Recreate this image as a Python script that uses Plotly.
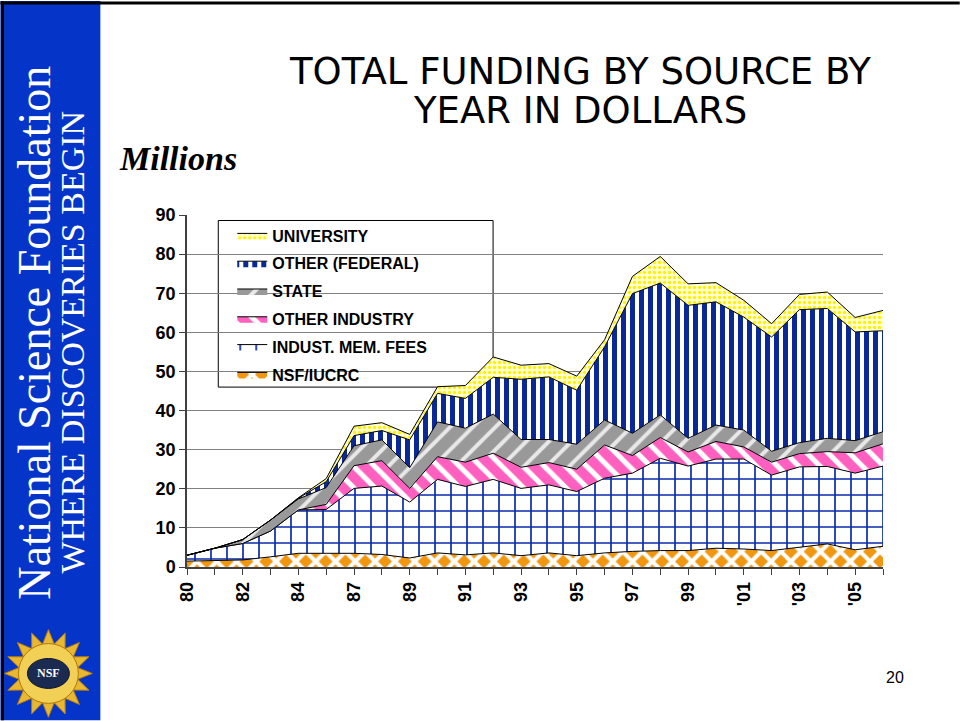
import math
import plotly.graph_objects as go

# ---------------- data (millions of dollars) ----------------
years = ["80", "81", "82", "83", "84", "85", "87", "88", "89", "90", "91", "92", "93",
         "94", "95", "96", "97", "98", "99", "'00", "'01", "'02", "'03", "'04", "'05", "'06"]
tick_labels = ["80", "", "82", "", "84", "", "87", "", "89", "", "91", "", "93",
               "", "95", "", "97", "", "99", "", "'01", "", "'03", "", "'05", ""]

nsf_iucrc = [1.5, 1.6, 1.8, 2.6, 3.5, 3.5, 3.5, 3.2, 2.3, 3.6, 3.1, 3.6, 2.9,
             3.6, 2.9, 3.6, 4.0, 4.2, 4.2, 4.8, 4.6, 4.2, 5.0, 5.9, 4.4, 5.3]
indust_mem_fees = [1.5, 3.2, 4.2, 6.6, 11.1, 11.2, 16.6, 17.5, 14.3, 18.8, 17.5, 18.8, 17.2,
                   17.4, 16.4, 19.1, 20.0, 23.6, 21.6, 22.8, 23.0, 19.3, 20.6, 19.8, 19.6, 20.5]
other_industry = [0, 0, 0, 0, 0, 1.3, 5.8, 6.5, 3.5, 5.8, 6.2, 6.7, 5.4,
                  5.7, 5.7, 8.5, 4.5, 5.3, 3.6, 4.5, 3.1, 3.3, 3.4, 3.8, 5.2, 5.7]
state = [0, 0, 1.0, 2.8, 2.8, 4.3, 5.1, 5.3, 5.3, 8.9, 8.7, 10.0, 7.1,
         5.9, 6.4, 6.4, 5.7, 5.8, 3.5, 4.2, 4.3, 2.8, 2.8, 3.4, 3.1, 3.1]
other_federal = [0, 0, 0, 0, 0.2, 1.5, 2.6, 2.4, 7.1, 7.3, 7.6, 9.4, 15.4,
                 16.0, 13.8, 18.7, 35.7, 33.7, 34.0, 31.5, 28.9, 29.2, 34.0, 33.2, 27.8, 25.8]
university = [0, 0, 0, 0, 0.1, 0.8, 2.4, 2.0, 1.4, 1.7, 3.3, 5.2, 3.6,
              3.4, 3.6, 1.8, 4.4, 6.8, 5.5, 4.9, 4.3, 3.4, 3.9, 4.2, 3.7, 5.2]

y_ticks = [0, 10, 20, 30, 40, 50, 60, 70, 80, 90]

# ---------------- layout geometry (pixels) ----------------
W, H = 960, 721
L, R, T, B = 186.7, 883.2, 214.5, 567.3


def px(x):
    return (x - L) / (R - L)


def py(y):
    return (B - y) / (B - T)


series = [
    ("NSF/IUCRC", nsf_iucrc, dict(shape="x", fgcolor="white", bgcolor="#F0960F", size=14, solidity=0.5)),
    ("INDUST. MEM. FEES", indust_mem_fees, dict(shape="+", fgcolor="#0A2AA8", bgcolor="white", size=16, solidity=0.2)),
    ("OTHER INDUSTRY", other_industry, dict(shape="\\", fgcolor="white", bgcolor="#FF5FBF", size=15, solidity=0.35)),
    ("STATE", state, dict(shape="/", fgcolor="#E8E8E8", bgcolor="#999999", size=16, solidity=0.25)),
    ("OTHER (FEDERAL)", other_federal, dict(shape="|", fgcolor="#0A2896", bgcolor="white", size=9, solidity=0.55)),
    ("UNIVERSITY", university, dict(shape=".", fgcolor="#FFF200", bgcolor="#FFFFD6", size=5, solidity=0.35)),
]

fig = go.Figure()
n_series = len(series)
for i, (name, vals, pat) in enumerate(series):
    pat = dict(pat, fgopacity=1, fillmode="replace")
    fig.add_trace(go.Scatter(
        x=years, y=vals, name=name, mode="lines", stackgroup="one",
        legendgroup=name, legendrank=100 * (n_series - i),
        line=dict(color="black", width=1),
        fillcolor=pat["bgcolor"],
        fillpattern=pat,
        hoverinfo="x+y+name",
    ))

shapes = []
# left blue band
shapes.append(dict(type="rect", xref="paper", yref="paper", x0=px(0), x1=px(100), y0=py(721), y1=py(0),
                   fillcolor="#0535C8", line=dict(width=0), layer="above"))
# black frame lines (top and left)
shapes.append(dict(type="line", xref="paper", yref="paper", x0=px(0), x1=px(960), y0=py(2), y1=py(2),
                   line=dict(color="black", width=3), layer="above"))
shapes.append(dict(type="line", xref="paper", yref="paper", x0=px(2), x1=px(2), y0=py(0), y1=py(721),
                   line=dict(color="black", width=3), layer="above"))
# legend box
shapes.append(dict(type="rect", xref="paper", yref="paper", x0=px(218), x1=px(493), y0=py(387), y1=py(220),
                   fillcolor="white", line=dict(color="black", width=1), layer="between"))

# NSF logo: golden sun with points + dark disc
cx, cy, r_out, r_in = 48, 674, 44, 30
pts = []
n = 16
for k in range(2 * n):
    ang = math.pi * k / n
    rr = r_out if k % 2 == 0 else r_in
    pts.append((px(cx + rr * math.cos(ang)), py(cy + rr * math.sin(ang))))
path = "M " + " L ".join(f"{a:.5f},{b:.5f}" for a, b in pts) + " Z"
shapes.append(dict(type="path", xref="paper", yref="paper", path=path,
                   fillcolor="#E8B830", line=dict(color="#B07810", width=1), layer="above"))
shapes.append(dict(type="circle", xref="paper", yref="paper", x0=px(cx - 30), x1=px(cx + 30),
                   y0=py(cy + 30), y1=py(cy - 30), fillcolor="#F2CF55",
                   line=dict(color="#B07810", width=1), layer="above"))
shapes.append(dict(type="circle", xref="paper", yref="paper", x0=px(cx - 21), x1=px(cx + 21),
                   y0=py(cy + 15), y1=py(cy - 15), fillcolor="#1A2A50",
                   line=dict(color="#0A1430", width=1), layer="above"))


def ann(text, x, y, size, family, color="black", angle=0, xanchor="center"):
    return dict(text=text, x=px(x), y=py(y), xref="paper", yref="paper", xanchor=xanchor, yanchor="middle",
                showarrow=False, textangle=angle, font=dict(family=family, size=size, color=color))


annotations = [
    ann("TOTAL FUNDING BY SOURCE BY", 580, 71, 37, "DejaVu Sans"),
    ann("YEAR IN DOLLARS", 580, 110, 37, "DejaVu Sans"),
    ann("<b><i>Millions</i></b>", 117, 158, 34, "Liberation Serif", xanchor="left"),
    ann("National Science Foundation", 34, 332, 46, "Liberation Serif", color="white", angle=-90),
    ann("WHERE DISCOVERIES BEGIN", 72, 342, 34, "Liberation Serif", color="white", angle=-90),
    ann("<b>NSF</b>", cx, cy, 12, "Liberation Serif", color="white"),
    ann("20", 895, 678, 16, "Liberation Sans"),
]

fig.update_layout(
    width=W, height=H,
    margin=dict(l=L, r=W - R, t=T, b=H - B, pad=0),
    paper_bgcolor="white", plot_bgcolor="white",
    showlegend=True,
    legend=dict(x=px(232), y=py(218), xanchor="left", yanchor="top",
                bgcolor="rgba(0,0,0,0)", borderwidth=0,
                traceorder="grouped", tracegroupgap=4,
                font=dict(family="Liberation Sans", size=16, color="black", weight="bold"),
                itemwidth=30),
    shapes=shapes,
    annotations=annotations,
    xaxis=dict(type="category", categoryorder="array", categoryarray=years,
               range=[0, len(years) - 1], tickmode="array", tickvals=years, ticktext=tick_labels,
               tickangle=-90, ticks="outside", ticklen=6, tickcolor="#404040",
               showline=True, linecolor="#404040", linewidth=1.5, showgrid=False, zeroline=False,
               tickfont=dict(family="Liberation Sans", size=18, color="black", weight="bold")),
    yaxis=dict(range=[0, 90], tickmode="array", tickvals=y_ticks, ticks="outside", ticklen=6,
               tickcolor="#404040", showline=True, linecolor="#404040", linewidth=1.5,
               showgrid=True, gridcolor="#808080", gridwidth=1.3, zeroline=False,
               tickfont=dict(family="Liberation Sans", size=18, color="black", weight="bold")),
)

fig.write_html("out.html")
